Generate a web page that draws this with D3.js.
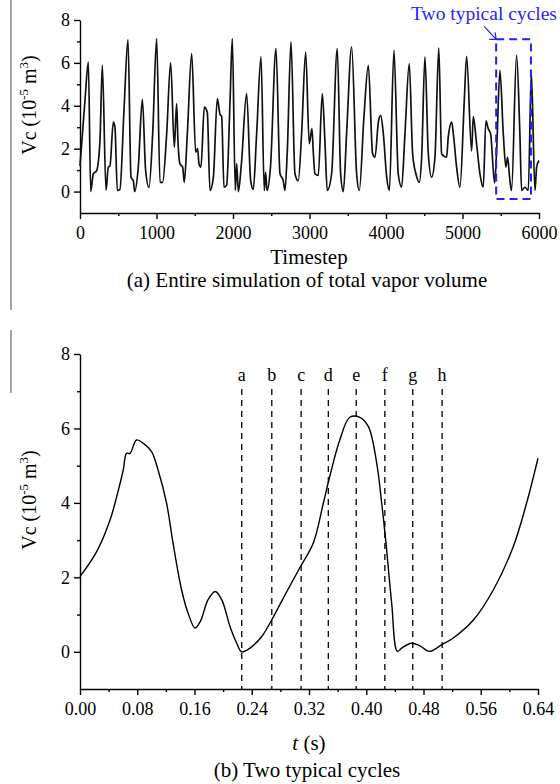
<!DOCTYPE html>
<html>
<head>
<meta charset="utf-8">
<script src="https://cdnjs.cloudflare.com/ajax/libs/d3/7.8.5/d3.min.js"></script>
<style>
  body { margin: 0; background: #fff; }
  svg text { font-family: "Liberation Serif", "Times New Roman", serif; fill: #000; }
  .domain, .tick line { stroke: #000; stroke-width: 1.4; }
</style>
</head>
<body>
<svg id="fig" width="560" height="784"></svg>
<script>
// (a) entire simulation
var simSteps = [0, 65, 109, 140, 174, 218, 261, 292, 340, 370, 392, 435, 457, 488, 522, 575, 627, 667, 697, 714,
  762, 815, 858, 902, 950, 1002, 1046, 1080, 1133, 1185, 1233, 1263, 1280, 1307, 1342, 1363, 1403, 1460, 1512, 1538,
  1555, 1581, 1625, 1664, 1699, 1743, 1795, 1830, 1852, 1882, 1917, 1961, 1991, 2030, 2048, 2070, 2110, 2178, 2231, 2265,
  2309, 2366, 2409, 2426, 2445, 2490, 2562, 2614, 2657, 2679, 2710, 2758, 2810, 2853, 2897, 2950, 2997, 3032, 3049, 3071,
  3115, 3167, 3201, 3232, 3289, 3363, 3407, 3442, 3485, 3551, 3616, 3651, 3712, 3769, 3825, 3856, 3900, 3930, 3965, 4009,
  4044, 4104, 4160, 4204, 4248, 4304, 4348, 4391, 4435, 4466, 4509, 4553, 4596, 4640, 4690, 4727, 4792, 4814, 4858, 4880,
  4923, 4967, 5024, 5054, 5119, 5141, 5184, 5228, 5271, 5306, 5337, 5367, 5420, 5446, 5489, 5533, 5567, 5589, 5620, 5641,
  5707, 5750, 5773, 5816, 5860, 5900, 5947, 5969, 6000];
var simVc = [1.2, 4.25, 6.04, 0.0, 0.83, 0.98, 2.38, 5.9, 0.05, 1.14, 1.2, 3.24, 3.0, 0.05, 0.1, 3.79, 7.09, 0.67, 0.5, 0.0,
  1.14, 4.3, 0.98, 0.2, 2.7, 7.13, 0.43, 0.43, 2.7, 6.01, 2.07, 4.1, 2.4, 1.29, 1.14, 0.43, 2.7, 6.43, 1.84, 2.0,
  1.3, 1.14, 3.94, 3.7, 0.05, 0.65, 4.33, 3.6, 3.5, 0.2, 0.3, 4.2, 7.13, 0.05, 1.3, 0.0, 1.3, 4.57, 0.51, 0.1,
  2.7, 6.28, 0.05, 0.9, 0.05, 1.14, 6.67, 0.84, 0.5, 0.05, 1.9, 6.98, 0.83, 0.5, 2.7, 6.5, 2.23, 2.93, 1.88, 0.83,
  0.75, 4.57, 2.4, 0.05, 0.83, 6.67, 0.83, 0.0, 2.7, 6.74, 0.83, 0.05, 3.5, 5.89, 1.76, 1.6, 3.24, 3.55, 2.7, 0.67,
  0.05, 6.59, 0.83, 0.2, 2.7, 5.97, 1.76, 0.83, 0.43, 1.6, 6.28, 1.76, 0.67, 1.6, 6.7, 1.76, 1.6, 2.54, 3.24, 2.7,
  1.14, 0.2, 4.3, 6.3, 1.9, 3.5, 2.23, 0.83, 0.2, 3.3, 2.93, 2.7, 0.4, 1.9, 5.65, 2.7, 1.14, 1.6, 0.5, 0.05,
  6.36, 2.7, 0.05, 0.2, 0.05, 5.57, 0.05, 1.14, 1.45];
var simTicks = [0, 1000, 2000, 3000, 4000, 5000, 6000];
var simMinor = [500, 1500, 2500, 3500, 4500, 5500];
var boxSteps = [5440, 5895];
var boxVc = [-0.35, 7.1];

// (b) two typical cycles
var cycT = [0, 0.0233, 0.042, 0.0513, 0.0605, 0.065, 0.0699, 0.079, 0.0885, 0.1, 0.109, 0.121, 0.130, 0.142, 0.151,
  0.1607, 0.168, 0.179, 0.189, 0.198, 0.2096, 0.219, 0.226, 0.2376, 0.254, 0.268, 0.2865, 0.307, 0.326, 0.340, 0.349,
  0.363, 0.377, 0.391, 0.403, 0.4146, 0.4216, 0.4276, 0.4355, 0.4434, 0.4496, 0.4635, 0.475, 0.488, 0.5055, 0.5216,
  0.55, 0.5775, 0.6055, 0.624, 0.64];
var cycVc = [2.02, 2.69, 3.54, 4.17, 4.89, 5.33, 5.33, 5.69, 5.6, 5.38, 4.89, 3.99, 2.92, 1.66, 1.04,
  0.64, 0.81, 1.40, 1.62, 1.40, 0.68, 0.23, 0.0, 0.1, 0.41, 0.86, 1.53, 2.25, 2.92, 3.99, 4.71,
  5.69, 6.30, 6.30, 6.05, 5.07, 3.99, 2.92, 1.31, 0.01, 0.10, 0.23, 0.16, 0.01, 0.19, 0.37,
  0.86, 1.66, 2.83, 3.99, 5.2];
var markT = [0.226, 0.268, 0.309, 0.347, 0.386, 0.426, 0.465, 0.506];
var markLab = ["a", "b", "c", "d", "e", "f", "g", "h"];
var cycTicks = [0, 0.08, 0.16, 0.24, 0.32, 0.40, 0.48, 0.56, 0.64];
var cycMinor = [0.04, 0.12, 0.2, 0.28, 0.36, 0.44, 0.52, 0.6];
var vcTicks = [0, 2, 4, 6, 8];
var vcMinor = [1, 3, 5, 7];

var svg = d3.select("#fig");

// stray gray rule on the left edge of the scan
svg.append("line").attr("x1", 11).attr("x2", 11).attr("y1", 0).attr("y2", 310)
  .attr("stroke", "#888").attr("stroke-width", 1.5);
svg.append("line").attr("x1", 11).attr("x2", 11).attr("y1", 330).attr("y2", 393)
  .attr("stroke", "#888").attr("stroke-width", 1.5);

function yLabel(g, x, y) {
  var t = g.append("text")
    .attr("transform", "translate(" + x + "," + y + ") rotate(-90)")
    .attr("text-anchor", "middle")
    .style("font-size", "20px");
  t.append("tspan").text("Vc (10");
  t.append("tspan").attr("dy", -8).style("font-size", "13px").text("-5");
  t.append("tspan").attr("dy", 8).text(" m");
  t.append("tspan").attr("dy", -8).style("font-size", "13px").text("3");
  t.append("tspan").attr("dy", 8).text(")");
}

function drawAxes(x, y, xTicks, xMinor, xFmt) {
  var left = x.range()[0];
  var bottom = y(-1);
  var ga = svg.append("g").attr("transform", "translate(0," + bottom + ")");
  ga.call(d3.axisBottom(x).tickValues(xTicks).tickFormat(xFmt).tickSize(6).tickSizeOuter(0));
  ga.append("g").call(d3.axisBottom(x).tickValues(xMinor).tickFormat("").tickSize(3).tickSizeOuter(0))
    .select(".domain").remove();
  ga.selectAll(".tick text").attr("dy", "0.95em").style("font-size", "18px");

  var gy = svg.append("g").attr("transform", "translate(" + left + ",0)");
  gy.call(d3.axisLeft(y).tickValues(vcTicks).tickSize(6).tickSizeOuter(0));
  gy.append("g").call(d3.axisLeft(y).tickValues(vcMinor).tickFormat("").tickSize(3).tickSizeOuter(0))
    .select(".domain").remove();
  gy.selectAll(".tick text").attr("x", -10).style("font-size", "18px");
}

// ---- (a)
var xa = d3.scaleLinear().domain([0, 6000]).range([80, 539]);
var ya = d3.scaleLinear().domain([-1, 8]).range([213, 20]);
drawAxes(xa, ya, simTicks, simMinor, d3.format("d"));

svg.append("path")
  .datum(d3.range(simSteps.length))
  .attr("fill", "none").attr("stroke", "#111").attr("stroke-width", 1.7)
  .attr("stroke-linejoin", "round")
  .attr("d", d3.line().curve(d3.curveMonotoneX)
    .x(function(i) { return xa(simSteps[i]); }).y(function(i) { return ya(simVc[i]); }));

svg.append("rect")
  .attr("x", xa(boxSteps[0])).attr("y", ya(boxVc[1]))
  .attr("width", xa(boxSteps[1]) - xa(boxSteps[0]))
  .attr("height", ya(boxVc[0]) - ya(boxVc[1]))
  .attr("fill", "none").attr("stroke", "#1f1fff").attr("stroke-width", 2)
  .attr("stroke-dasharray", "8,5");

svg.append("text").attr("x", 484).attr("y", 20).attr("text-anchor", "middle")
  .style("font-size", "19.5px").style("fill", "#1f1fff").text("Two typical cycles");
var ax = xa(boxSteps[0]), ay = ya(boxVc[1]);
svg.append("path")
  .attr("d", "M" + (ax - 12) + "," + (ay - 13) + "L" + ax + "," + ay +
    "M" + (ax - 7) + "," + ay + "L" + ax + "," + ay + "L" + (ax - 1) + "," + (ay - 7))
  .attr("fill", "none").attr("stroke", "#1f1fff").attr("stroke-width", 1.2);

yLabel(svg, 36, 105);
svg.append("text").attr("x", 309).attr("y", 264).attr("text-anchor", "middle")
  .style("font-size", "21px").text("Timestep");
svg.append("text").attr("x", 307).attr("y", 287).attr("text-anchor", "middle")
  .style("font-size", "21px").text("(a) Entire simulation of total vapor volume");

// ---- (b)
var xb = d3.scaleLinear().domain([0, 0.64]).range([80, 538]);
var yb = d3.scaleLinear().domain([-1, 8]).range([689, 354]);
drawAxes(xb, yb, cycTicks, cycMinor, d3.format(".2f"));

var marks = svg.append("g").selectAll("g").data(markT).enter().append("g");
marks.append("line")
  .attr("x1", function(d) { return xb(d); }).attr("x2", function(d) { return xb(d); })
  .attr("y1", 389).attr("y2", yb(-1))
  .attr("stroke", "#000").attr("stroke-width", 1.3).attr("stroke-dasharray", "6,5");
marks.append("text")
  .attr("x", function(d) { return xb(d); }).attr("y", 381)
  .attr("text-anchor", "middle").style("font-size", "18px")
  .text(function(d, i) { return markLab[i]; });

svg.append("path")
  .datum(d3.range(cycT.length))
  .attr("fill", "none").attr("stroke", "#000").attr("stroke-width", 1.4)
  .attr("d", d3.line().curve(d3.curveCatmullRom)
    .x(function(i) { return xb(cycT[i]); }).y(function(i) { return yb(cycVc[i]); }));

yLabel(svg, 36, 500);
var tl = svg.append("text").attr("x", 309).attr("y", 750).attr("text-anchor", "middle")
  .style("font-size", "21px");
tl.append("tspan").style("font-style", "italic").text("t");
tl.append("tspan").text(" (s)");
svg.append("text").attr("x", 307).attr("y", 777).attr("text-anchor", "middle")
  .style("font-size", "21px").text("(b) Two typical cycles");
</script>
</body>
</html>
